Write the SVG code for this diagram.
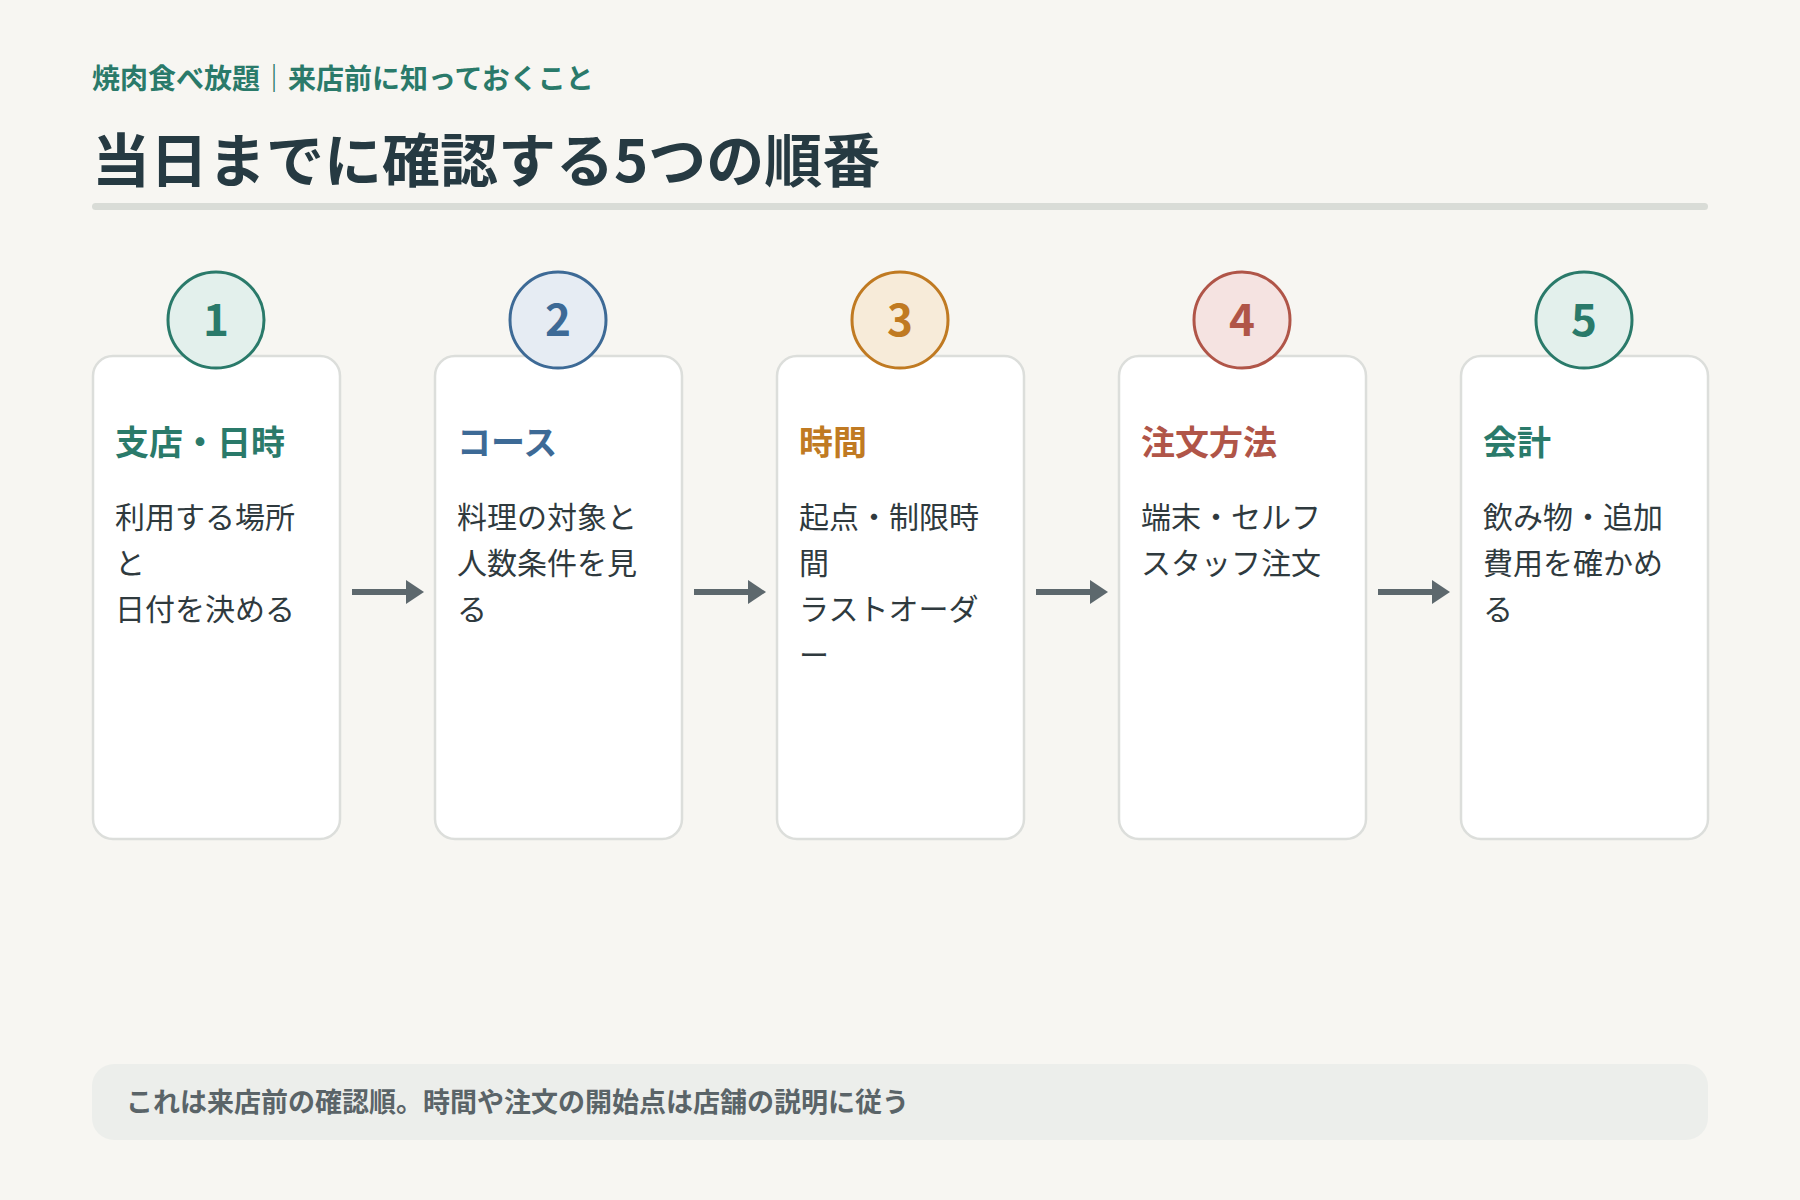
<svg xmlns="http://www.w3.org/2000/svg" width="1800" height="1200" viewBox="0 0 1800 1200">
<style>
text{font-family:"Noto Sans CJK JP","Noto Sans",sans-serif}
.card{fill:#fff;stroke:#dcdedb;stroke-width:2.5}
.num{font-size:44px;font-weight:700;text-anchor:middle}
.ct{font-size:34px;font-weight:700}
.body{font-size:30px;fill:#2f3a3e}
.arr{stroke:#5d686d;stroke-width:6}
</style>
<defs><marker id="ah" markerWidth="4" markerHeight="4" refX="2" refY="2" orient="auto" markerUnits="strokeWidth"><path d="M0,0L3,2L0,4z" fill="#5d686d"/></marker></defs>
<rect width="1800" height="1200" fill="#f7f6f2"/>
<text x="92" y="89" font-size="28" font-weight="700" fill="#2a7a6a">焼肉食べ放題｜来店前に知っておくこと</text>
<text x="92" y="182" font-size="58" font-weight="700" fill="#263a42">当日までに確認する5つの順番</text>
<rect x="92" y="203" width="1616" height="7" rx="3.5" fill="#d9dcd7"/>
<g id="n1"><rect class="card" x="93" y="356" width="247" height="483" rx="20"/><circle cx="216" cy="320" r="48" fill="#e3f0ec" stroke="#2a7a6a" stroke-width="3"/><text class="num" x="216" y="336" fill="#2a7a6a">1</text><text class="ct" x="115" y="455" fill="#2a7a6a">支店・日時</text><text class="body" x="115" y="528">利用する場所</text><text class="body" x="115" y="574">と</text><text class="body" x="115" y="620">日付を決める</text></g>
<g id="n2"><rect class="card" x="435" y="356" width="247" height="483" rx="20"/><circle cx="558" cy="320" r="48" fill="#e6ecf3" stroke="#3d6a96" stroke-width="3"/><text class="num" x="558" y="336" fill="#3d6a96">2</text><text class="ct" x="457" y="455" fill="#3d6a96">コース</text><text class="body" x="457" y="528">料理の対象と</text><text class="body" x="457" y="574">人数条件を見</text><text class="body" x="457" y="620">る</text></g>
<g id="n3"><rect class="card" x="777" y="356" width="247" height="483" rx="20"/><circle cx="900" cy="320" r="48" fill="#f7ebd9" stroke="#c07a22" stroke-width="3"/><text class="num" x="900" y="336" fill="#c07a22">3</text><text class="ct" x="799" y="455" fill="#c07a22">時間</text><text class="body" x="799" y="528">起点・制限時</text><text class="body" x="799" y="574">間</text><text class="body" x="799" y="620">ラストオーダ</text><text class="body" x="799" y="666">ー</text></g>
<g id="n4"><rect class="card" x="1119" y="356" width="247" height="483" rx="20"/><circle cx="1242" cy="320" r="48" fill="#f5e3e1" stroke="#b05548" stroke-width="3"/><text class="num" x="1242" y="336" fill="#b05548">4</text><text class="ct" x="1141" y="455" fill="#b05548">注文方法</text><text class="body" x="1141" y="528">端末・セルフ</text><text class="body" x="1141" y="574">スタッフ注文</text></g>
<g id="n5"><rect class="card" x="1461" y="356" width="247" height="483" rx="20"/><circle cx="1584" cy="320" r="48" fill="#e3f0ec" stroke="#2a7a6a" stroke-width="3"/><text class="num" x="1584" y="336" fill="#2a7a6a">5</text><text class="ct" x="1483" y="455" fill="#2a7a6a">会計</text><text class="body" x="1483" y="528">飲み物・追加</text><text class="body" x="1483" y="574">費用を確かめ</text><text class="body" x="1483" y="620">る</text></g>
<g id="connectors">
<line class="arr" x1="352" y1="592" x2="418" y2="592" marker-end="url(#ah)"/>
<line class="arr" x1="694" y1="592" x2="760" y2="592" marker-end="url(#ah)"/>
<line class="arr" x1="1036" y1="592" x2="1102" y2="592" marker-end="url(#ah)"/>
<line class="arr" x1="1378" y1="592" x2="1444" y2="592" marker-end="url(#ah)"/>
</g>
<rect x="92" y="1064" width="1616" height="76" rx="22" fill="#eceeeb"/>
<text x="126" y="1112" font-size="27" font-weight="700" fill="#5a6468">これは来店前の確認順。時間や注文の開始点は店舗の説明に従う</text>
</svg>
